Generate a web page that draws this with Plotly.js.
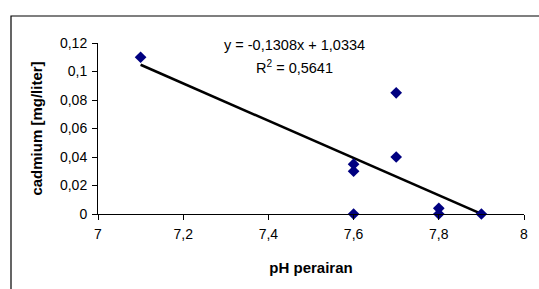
<!DOCTYPE html>
<html>
<head>
<meta charset="utf-8">
<script src="https://cdn.plot.ly/plotly-3.0.1.min.js"></script>
<style>
html,body{margin:0;padding:0;background:#fff;}
#chart{width:539px;height:289px;}
</style>
</head>
<body>
<div id="chart"></div>
<script>
// Data
const phValues = [7.1, 7.6, 7.6, 7.6, 7.7, 7.7, 7.8, 7.8, 7.9];
const cadmiumValues = [0.11, 0.035, 0.03, 0, 0.085, 0.04, 0.004, 0, 0];
const trendSlope = -0.1308;
const trendIntercept = 1.0334;
const trendRange = [7.1, 7.9];
const xTickVals = [7, 7.2, 7.4, 7.6, 7.8, 8];
const xTickText = ['7', '7,2', '7,4', '7,6', '7,8', '8'];
const yTickVals = [0, 0.02, 0.04, 0.06, 0.08, 0.1, 0.12];
const yTickText = ['0', '0,02', '0,04', '0,06', '0,08', '0,1', '0,12'];
const equationText = 'y = -0,1308x + 1,0334';
const r2Text = 'R<sup>2</sup> = 0,5641';
const xTitle = 'pH perairan';
const yTitle = 'cadmium [mg/liter]';

const trendY = trendRange.map(x => trendSlope * x + trendIntercept);

const font = 'Liberation Sans, Arial, sans-serif';

const traces = [
  {
    x: trendRange, y: trendY, type: 'scatter', mode: 'lines',
    line: {color: '#000000', width: 2.5}, hoverinfo: 'skip', showlegend: false, cliponaxis: false
  },
  {
    x: phValues, y: cadmiumValues, type: 'scatter', mode: 'markers',
    marker: {symbol: 'diamond', size: 9, color: '#000080'}, showlegend: false, cliponaxis: false
  }
];

const layout = {
  width: 539, height: 289,
  margin: {l: 98, r: 15, t: 43, b: 75},
  paper_bgcolor: '#ffffff', plot_bgcolor: '#ffffff',
  font: {family: font, size: 14, color: '#000'},
  showlegend: false,
  xaxis: {
    range: [7, 8], tickvals: xTickVals, ticktext: xTickText,
    showgrid: false, zeroline: false, showline: true, linecolor: '#000', linewidth: 1,
    ticks: 'outside', ticklen: 5, tickcolor: '#000', tickwidth: 1, ticklabelstandoff: 2,
    tickfont: {family: font, size: 14, color: '#000'},
    title: {text: '<b>' + xTitle + '</b>', font: {family: font, size: 15, color: '#000'}, standoff: 21}
  },
  yaxis: {
    range: [0, 0.12], tickvals: yTickVals, ticktext: yTickText,
    showgrid: false, zeroline: false, showline: true, linecolor: '#000', linewidth: 1,
    ticks: 'outside', ticklen: 5, tickcolor: '#000', tickwidth: 1, ticklabelstandoff: 2,
    tickfont: {family: font, size: 14, color: '#000'},
    title: {text: '<b>' + yTitle + '</b>', font: {family: font, size: 15, color: '#000'}, standoff: 13}
  },
  annotations: [
    {xref: 'paper', yref: 'paper', x: (294 - 98) / 426, y: 1 - (45 - 43) / 171, text: equationText,
     showarrow: false, font: {family: font, size: 14.5, color: '#000'}, xanchor: 'center', yanchor: 'middle'},
    {xref: 'paper', yref: 'paper', x: (294 - 98) / 426, y: 1 - (67 - 43) / 171, text: r2Text,
     showarrow: false, font: {family: font, size: 14.5, color: '#000'}, xanchor: 'center', yanchor: 'middle'}
  ],
  shapes: [
    {type: 'rect', xref: 'paper', yref: 'paper',
     x0: (11 - 98) / 426, x1: (600 - 98) / 426,
     y0: 1 - (320 - 43) / 171, y1: 1 + (43 - 16) / 171,
     line: {color: '#000', width: 1.2}, fillcolor: 'rgba(0,0,0,0)', layer: 'above'}
  ]
};

Plotly.newPlot('chart', traces, layout, {staticPlot: true, displayModeBar: false});
</script>
</body>
</html>
